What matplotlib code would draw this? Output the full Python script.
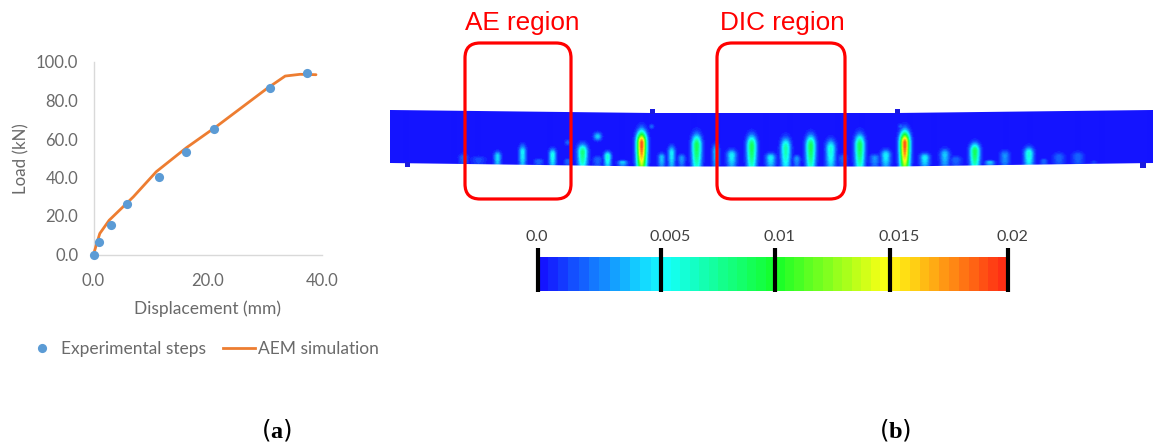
import numpy as np
import matplotlib
matplotlib.use("Agg")
import matplotlib.pyplot as plt
from matplotlib.colors import LinearSegmentedColormap, ListedColormap
from matplotlib.patches import FancyBboxPatch, Polygon, Rectangle
from matplotlib.lines import Line2D

W, H = 1153, 443
plt.rcParams['mathtext.fontset'] = 'custom'
plt.rcParams['mathtext.rm'] = 'Liberation Serif'
plt.rcParams['mathtext.bf'] = 'Liberation Serif:bold'

# ---- panel (a) data
exp_disp = [0.0, 0.9, 3.1, 5.9, 11.5, 16.3, 21.1, 30.9, 37.5]
exp_load = [0.0, 6.7, 15.2, 26.3, 40.1, 53.1, 65.4, 86.7, 94.5]
sim_disp = [0.0, 0.4, 1.1, 2.75, 7.0, 11.0, 16.3, 21.6, 30.3, 33.6, 36.2, 39.0]
sim_load = [0.0, 4.0, 10.9, 17.8, 30.0, 43.0, 55.5, 66.6, 86.0, 92.7, 93.6, 93.4]
x_ticks = [0.0, 20.0, 40.0]
y_ticks = [0.0, 20.0, 40.0, 60.0, 80.0, 100.0]

# ---- panel (b) data: strain peaks (image pixel frame)
spike_x = [463, 478, 497, 522, 538, 552, 567, 582, 597, 607, 622, 641, 661, 671, 681, 696,
           715, 731, 751, 770, 785, 796, 810, 830, 842, 859, 874, 885, 904, 924, 944, 955,
           974, 989, 1004, 1028, 1043, 1058, 1077, 1093]
spike_top = [152, 155, 150, 143, 158, 147, 158, 142, 155, 150, 160, 128, 152, 144, 153, 131,
             142, 148, 132, 152, 135, 154, 132, 137, 153, 131, 153, 148, 128, 152, 147, 155,
             141, 160, 149, 145, 158, 151, 150, 160]
spike_strain = [.002, .0015, .0045, .005, .002, .0055, .002, .008, .002, .006, .004, .019,
                .004, .005, .003, .009, .004, .005, .009, .005, .007, .003, .009, .006, .002,
                .009, .003, .005, .019, .005, .004, .002, .009, .004, .003, .006, .002, .002,
                .002, .001]
spike_width = [4, 6, 3, 3, 4, 3, 3, 4, 4, 3, 4, 4, 3, 3, 3, 4, 3, 4, 4, 4, 4, 3, 4, 4, 4,
               4, 4, 4, 4, 4, 4, 5, 4, 4, 4, 4, 3, 5, 5, 3]
blob_x = [597, 567, 651, 900]
blob_y = [137, 143, 127, 127]
blob_strain = [.004, .002, .002, .002]
blob_r = [4, 3, 2.5, 3]
cbar_labels = ['0.0', '0.005', '0.01', '0.015', '0.02']
cbar_values = [0.0, 0.005, 0.01, 0.015, 0.02]
region_labels = ['AE region', 'DIC region']

GREY = '#6a6a6a'
fig = plt.figure(figsize=(W / 100, H / 100), dpi=100, facecolor='white')


def axrect(l, t, r, b):
    return [l / W, 1 - b / H, (r - l) / W, (b - t) / H]


# ---- panel (a)
ax = fig.add_axes(axrect(93.5, 62, 321.7, 254.5))
ax.set_xlim(0, 40)
ax.set_ylim(0, 100)
ax.plot(sim_disp, sim_load, color='#ed7d31', lw=2.0, clip_on=False, zorder=3,
        solid_capstyle='round')
ax.plot(exp_disp, exp_load, 'o', color='#5b9bd5', ms=6.6, mew=0, clip_on=False, zorder=4)
for s in ('top', 'right'):
    ax.spines[s].set_visible(False)
for s in ('left', 'bottom'):
    ax.spines[s].set_color('#d9d9d9')
    ax.spines[s].set_linewidth(1.0)
ax.set_xticks(x_ticks, [f'{v:.1f}' for v in x_ticks])
ax.set_yticks(y_ticks, [f'{v:.1f}' for v in y_ticks])
ax.tick_params(axis='x', length=0, labelsize=12, labelcolor=GREY, pad=13)
ax.tick_params(axis='y', length=0, labelsize=12, labelcolor=GREY, pad=11)
for t in ax.get_xticklabels() + ax.get_yticklabels():
    t.set_fontfamily('Lato')
ax.set_xlabel('Displacement (mm)', fontsize=12.5, color=GREY, family='Lato', labelpad=8.5)
ax.set_ylabel('Load (kN)', fontsize=12.2, color=GREY, family='Lato', labelpad=4.5)
handles = [Line2D([], [], ls='none', marker='o', color='#5b9bd5', ms=6.6, mew=0),
           Line2D([], [], color='#ed7d31', lw=2.0)]
fs = 12.5
fig.legend(handles, ['Experimental steps', 'AEM simulation'], ncol=2, frameon=False,
           loc='center left', bbox_to_anchor=(26 / W, 1 - 349 / H), borderaxespad=0, borderpad=0,
           handlelength=32 / (fs * 100 / 72), handletextpad=0.17, columnspacing=0.98,
           prop={'family': 'Lato', 'size': fs}, labelcolor=GREY)

# ---- panel (b)
bx = fig.add_axes([0, 0, 1, 1], zorder=5)
bx.set_xlim(0, W)
bx.set_ylim(H, 0)
bx.axis('off')
bx.patch.set_alpha(0)

cmap_base = LinearSegmentedColormap.from_list(
    'strain', [(0, '#1414ff'), (.25, '#14ffff'), (.5, '#14ff28'), (.75, '#ffff14'), (1, '#ff2f14')])
cmap = ListedColormap(cmap_base(np.linspace(0, 1, 48)))

xs = np.arange(385, W + 1)
ys = np.arange(105, 172)
X, Y = np.meshgrid(xs, ys)
F = np.zeros_like(X, dtype=float)
for cx, top, v, w in zip(spike_x, spike_top, spike_strain, spike_width):
    base = 166.0
    yc = top + 0.42 * (base - top)
    up = (yc - top) / 1.44
    hh = np.where(Y < yc, up, up * 3.2)
    F = np.maximum(F, v * np.exp(-((X - cx) / (w * 1.2)) ** 2) * np.exp(-((Y - yc) / hh) ** 2))
for cx, cy, v, r in zip(blob_x, blob_y, blob_strain, blob_r):
    F = np.maximum(F, v * np.exp(-((X - cx) ** 2 + (Y - cy) ** 2) / r ** 2))
im = bx.imshow(F, cmap=cmap, vmin=0, vmax=0.02, extent=(384.5, W + .5, 171.5, 104.5),
               interpolation='bilinear', aspect='auto', zorder=1)
slab = Polygon([(390, 110), (652, 113), (897, 113), (1153, 110), (1153, 163), (897, 166.5),
                (652, 166.5), (390, 163)], closed=True, fc='none', ec='none',
               transform=bx.transData)
bx.add_patch(slab)
im.set_clip_path(slab)
bx.set_xlim(0, W)
bx.set_ylim(H, 0)
for (l, t, w_, h_) in [(650, 109, 5, 5), (895, 109, 5, 5), (405, 162, 5, 5), (1140, 162, 6, 6)]:
    bx.add_patch(Rectangle((l, t), w_, h_, fc='#1a1ae0', ec='none', zorder=1))

# region frames
for l, r, lab, tx in zip([465, 717], [571, 845], region_labels, [465, 720]):
    bx.add_patch(FancyBboxPatch((l + 15, 58), r - l - 30, 126, boxstyle='round,pad=15,rounding_size=15',
                                fc='none', ec='#ff0000', lw=2.3, zorder=3))
    bx.text(tx, 23, lab, color='#ff0000', fontsize=18.8, family='Liberation Sans',
            ha='left', va='center', zorder=3)

# colour bar
tick_px = [537.5, 661, 775, 890, 1008]
label_px = [537, 670, 779, 899, 1012]
edges_val = np.linspace(0, 0.02, 49)
edges_px = np.interp(edges_val, cbar_values, tick_px)
bx.pcolormesh(edges_px, [257, 291], ((edges_val[:-1] + edges_val[1:]) / 2)[None, :],
              cmap=cmap, vmin=0, vmax=0.02, zorder=1)
bx.vlines(tick_px, 248, 292, color='black', lw=3.0, zorder=2)
for px, lab in zip(label_px, cbar_labels):
    bx.text(px, 237, lab, ha='center', va='center', fontsize=11.6, color='#404040',
            family='Lato', zorder=3)

# captions
for x, lab in [(277, 'a'), (895, 'b')]:
    bx.text(x, 430, rf'($\mathbf{{{lab}}}$)', ha='center', va='center', fontsize=17.5,
            color='black', zorder=3)
bx.set_xlim(0, W)
bx.set_ylim(H, 0)

fig.savefig('out.png', dpi=100)
